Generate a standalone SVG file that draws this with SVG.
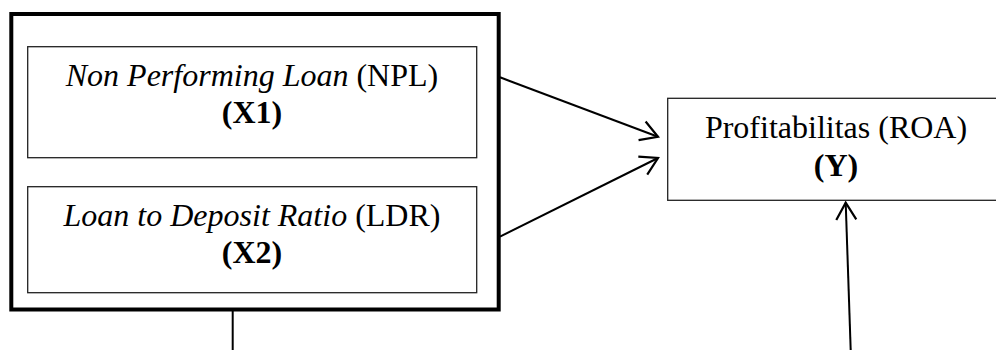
<svg xmlns="http://www.w3.org/2000/svg" width="996" height="350" viewBox="0 0 996 350">
<style>
  .t { font-family: "Liberation Serif", "Times New Roman", serif; font-size: 32px; fill: #000; text-anchor: middle; }
  .i { font-style: italic; }
  .b { font-weight: bold; }
  .box { fill: #fff; stroke: #222; stroke-width: 1.3; }
  .outer { fill: #fff; stroke: #000; stroke-width: 4; }
  .conn { stroke: #000; stroke-width: 2; fill: none; }
</style>
<defs>
  <marker id="arr" markerUnits="userSpaceOnUse" markerWidth="40" markerHeight="40" viewBox="-20 -20 40 40" refX="0" refY="0" orient="auto" overflow="visible">
    <path d="M-17,-10 L0,0 L-17,10" fill="none" stroke="#000" stroke-width="2.2" stroke-linejoin="miter"/>
  </marker>
</defs>
<g id="group-x">
  <rect class="outer" x="11.3" y="14" width="487.4" height="295.5"/>
</g>
<g id="node-x1">
  <rect class="box" x="27.7" y="46.7" width="449" height="111"/>
  <text class="t" x="252" y="85.5"><tspan class="i">Non Performing Loan</tspan> (NPL)</text>
  <text class="t b" x="252" y="122.7">(<tspan class="b">X1</tspan>)</text>
</g>
<g id="node-x2">
  <rect class="box" x="27.7" y="186.7" width="449" height="106"/>
  <text class="t" x="252" y="226"><tspan class="i">Loan to Deposit Ratio</tspan> (LDR)</text>
  <text class="t b" x="252" y="263.3">(<tspan class="b">X2</tspan>)</text>
</g>
<g id="node-y">
  <rect class="box" x="667.7" y="98.3" width="340" height="102" stroke="#000"/>
  <text class="t" x="836" y="138.3">Profitabilitas (ROA)</text>
  <text class="t b" x="836" y="175.5">(<tspan class="b">Y</tspan>)</text>
</g>
<g id="connectors">
  <line class="conn" x1="500" y1="77.3" x2="658" y2="136.8" marker-end="url(#arr)"/>
  <line class="conn" x1="500" y1="236.7" x2="658" y2="158" marker-end="url(#arr)"/>
  <line class="conn" x1="850.7" y1="350" x2="845.7" y2="202.7" marker-end="url(#arr)"/>
  <line class="conn" x1="232.7" y1="311" x2="232.7" y2="350" stroke-width="1.6"/>
</g>
</svg>
